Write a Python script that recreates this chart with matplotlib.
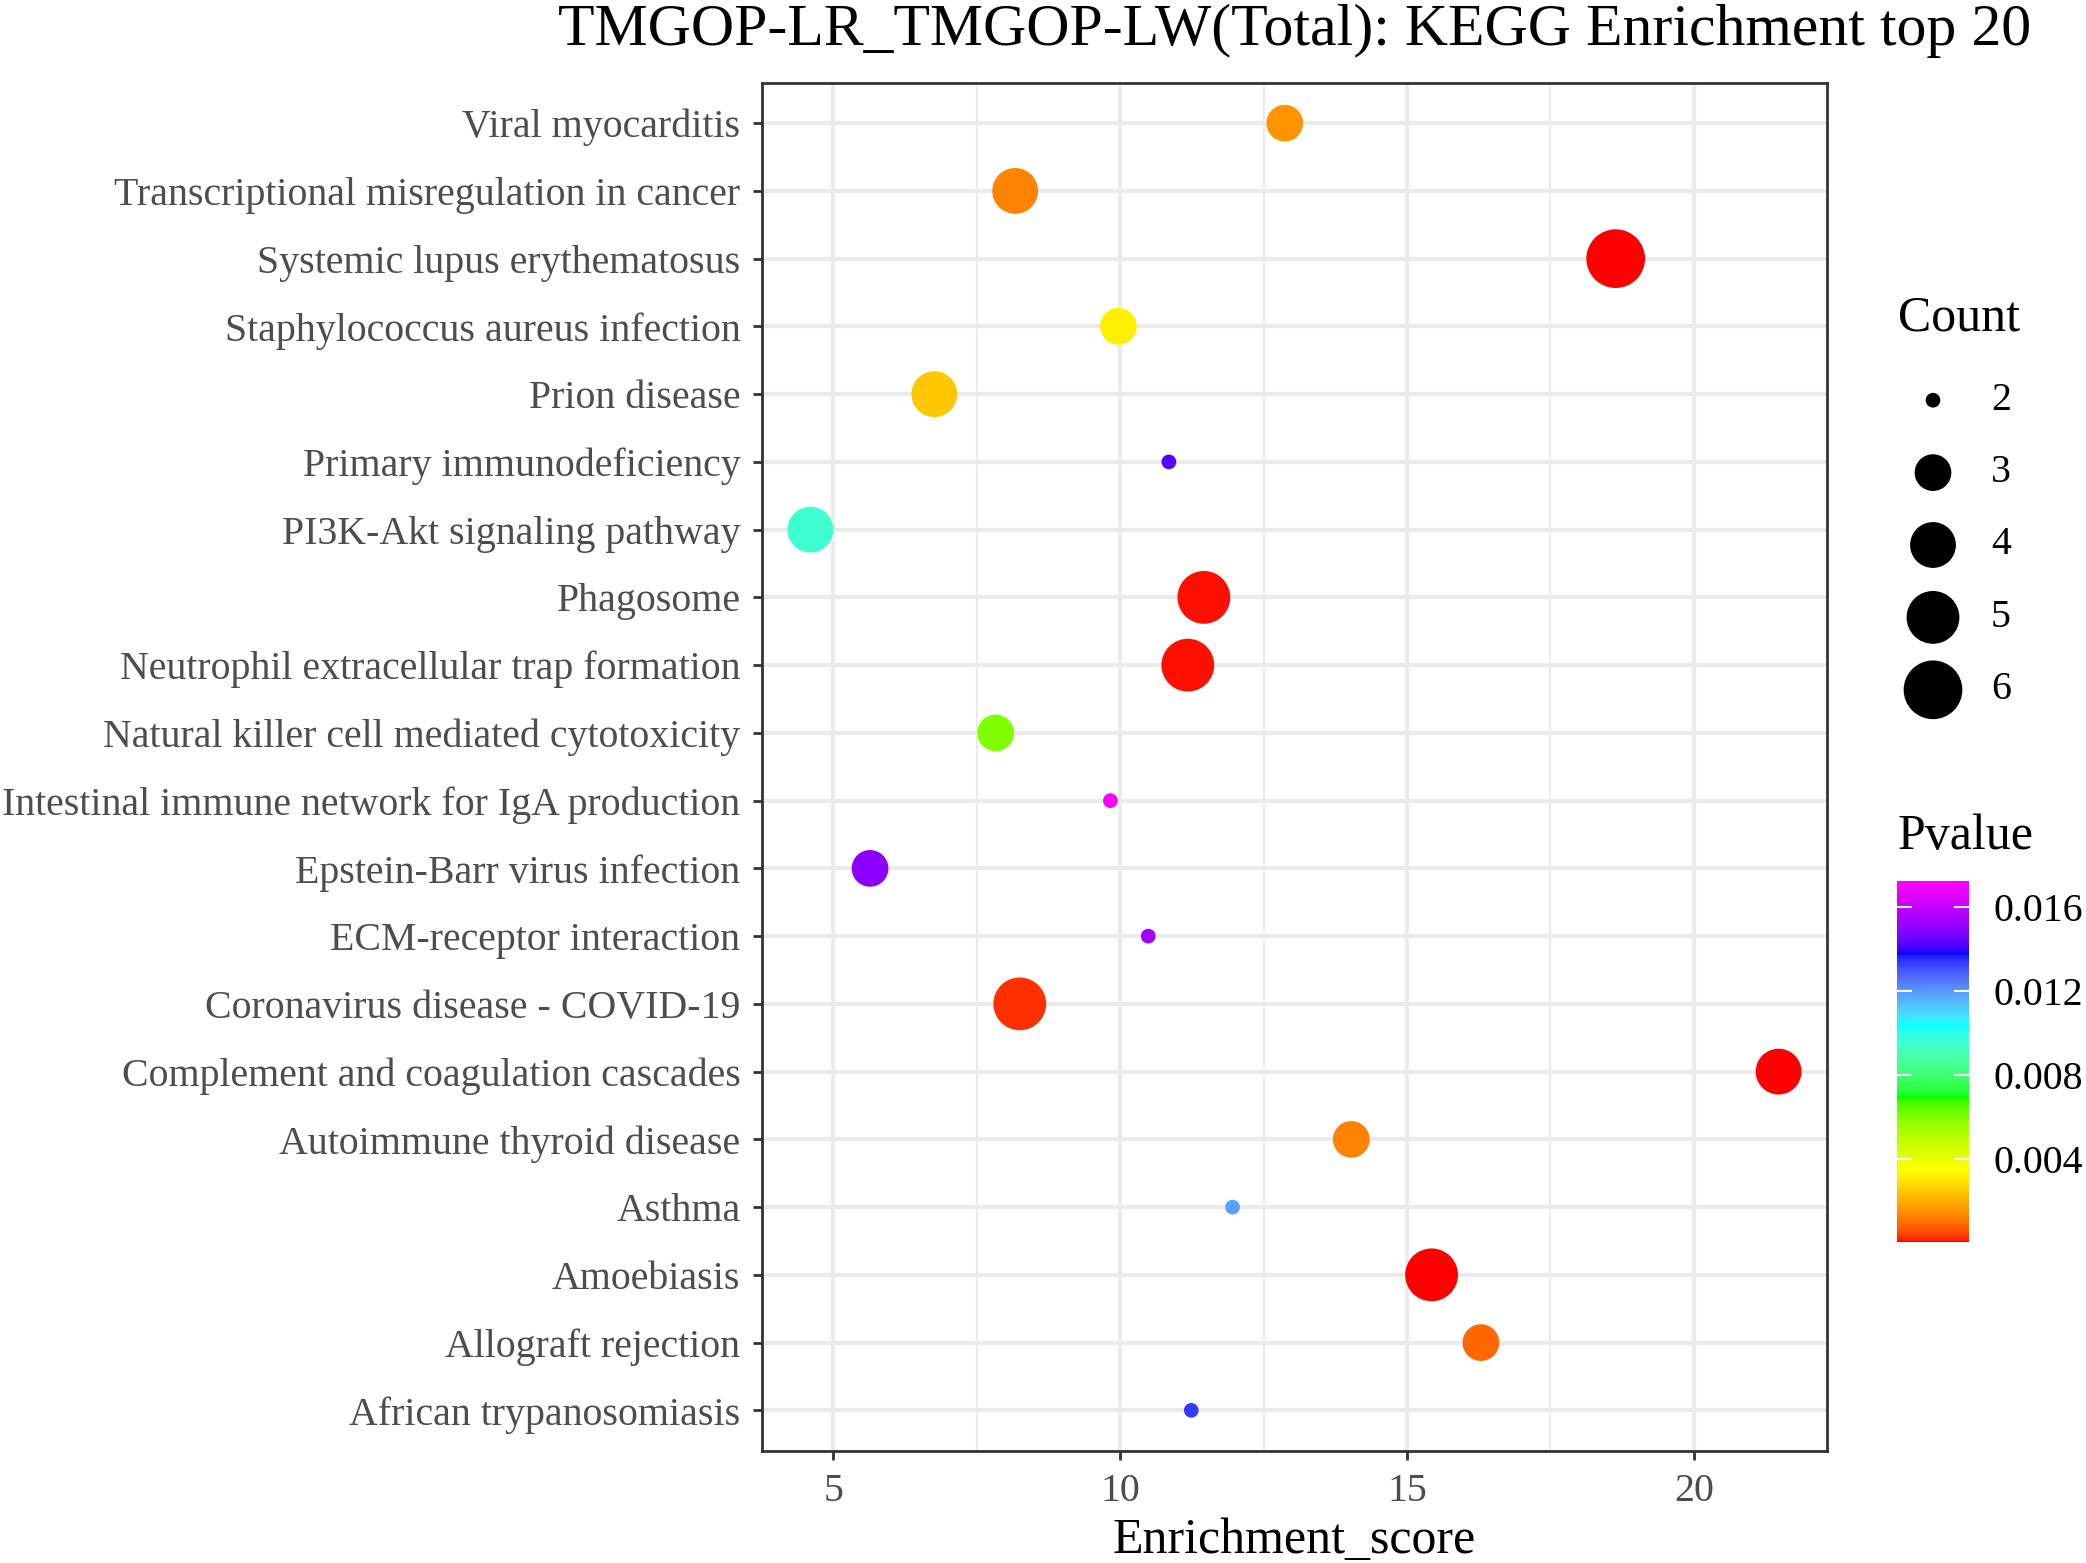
import numpy as np
import matplotlib
matplotlib.use("Agg")
import matplotlib.pyplot as plt
from matplotlib.colors import ListedColormap, Normalize, to_rgb
from matplotlib.ticker import MultipleLocator

plt.rcParams['font.family'] = ['Liberation Serif', 'DejaVu Serif']

terms = [
    "Viral myocarditis",
    "Transcriptional misregulation in cancer",
    "Systemic lupus erythematosus",
    "Staphylococcus aureus infection",
    "Prion disease",
    "Primary immunodeficiency",
    "PI3K-Akt signaling pathway",
    "Phagosome",
    "Neutrophil extracellular trap formation",
    "Natural killer cell mediated cytotoxicity",
    "Intestinal immune network for IgA production",
    "Epstein-Barr virus infection",
    "ECM-receptor interaction",
    "Coronavirus disease - COVID-19",
    "Complement and coagulation cascades",
    "Autoimmune thyroid disease",
    "Asthma",
    "Amoebiasis",
    "Allograft rejection",
    "African trypanosomiasis",
]
enrichment = [12.87, 8.17, 18.64, 9.97, 6.76, 10.85, 4.60, 11.46, 11.18, 7.83,
              9.83, 5.64, 10.49, 8.25, 21.48, 14.03, 11.96, 15.43, 16.29, 11.24]
counts = [3, 4, 6, 3, 4, 2, 4, 5, 5, 3, 2, 3, 2, 5, 4, 3, 2, 5, 3, 2]
pvalues = [0.00153, 0.00126, 0.00005, 0.00319, 0.00245, 0.01426, 0.00953, 0.00010,
           0.00010, 0.00597, 0.01723, 0.01495, 0.01535, 0.00027, 0.00008, 0.00126,
           0.01183, 0.00006, 0.00086, 0.01337]

legend_counts = [2, 3, 4, 5, 6]
cbar_ticks = [0.004, 0.008, 0.012, 0.016]
x_ticks = [5, 10, 15, 20]
gradient_colours = ["#FF0000", "#FFFF00", "#00FF00", "#00FFFF", "#0000FF", "#FF00FF"]

title = "TMGOP-LR_TMGOP-LW(Total): KEGG Enrichment top 20"
xlabel = "Enrichment_score"


# ---- colour gradient interpolated in CIELAB (like ggplot2's gradientn) ----
def _srgb_to_lin(c):
    c = np.asarray(c)
    return np.where(c <= 0.04045, c / 12.92, ((c + 0.055) / 1.055) ** 2.4)


def _lin_to_srgb(c):
    c = np.clip(c, 0, 1)
    return np.where(c <= 0.0031308, 12.92 * c, 1.055 * c ** (1 / 2.4) - 0.055)


_M = np.array([[0.4124564, 0.3575761, 0.1804375],
               [0.2126729, 0.7151522, 0.0721750],
               [0.0193339, 0.1191920, 0.9503041]])
_Minv = np.linalg.inv(_M)
_wp = np.array([0.95047, 1.0, 1.08883])


def _f(t):
    d = 6 / 29
    return np.where(t > d ** 3, np.cbrt(t), t / (3 * d * d) + 4 / 29)


def _finv(t):
    d = 6 / 29
    return np.where(t > d, t ** 3, 3 * d * d * (t - 4 / 29))


def rgb2lab(rgb):
    xyz = _srgb_to_lin(rgb) @ _M.T / _wp
    fx, fy, fz = _f(xyz[..., 0]), _f(xyz[..., 1]), _f(xyz[..., 2])
    return np.stack([116 * fy - 16, 500 * (fx - fy), 200 * (fy - fz)], -1)


def lab2rgb(lab):
    L, a, b = lab[..., 0], lab[..., 1], lab[..., 2]
    fy = (L + 16) / 116
    fx = fy + a / 500
    fz = fy - b / 200
    xyz = np.stack([_finv(fx), _finv(fy), _finv(fz)], -1) * _wp
    return _lin_to_srgb(xyz @ _Minv.T)


_alab = rgb2lab(np.array([to_rgb(c) for c in gradient_colours]))
_ts = np.linspace(0, 1, 512)
_pos = np.linspace(0, 1, len(gradient_colours))
_lab = np.stack([np.interp(_ts, _pos, _alab[:, k]) for k in range(3)], -1)
cmap = ListedColormap(np.clip(lab2rgb(_lab), 0, 1))
norm = Normalize(vmin=min(pvalues), vmax=max(pvalues))

cmin, cmax = min(counts), max(counts)


def size_of(c):
    # ggplot2 scale_size (area, range 1..6) -> visible diameter in points
    c = np.asarray(c, dtype=float)
    sz = 1 + 5 * np.sqrt((c - cmin) / (cmax - cmin))
    d_px = 3.093 * (2.845 * sz + 0.945) + 2.98
    return (d_px * 0.72) ** 2


W, H = 2086, 1563
fig = plt.figure(figsize=(W / 100, H / 100), dpi=100)

ax = fig.add_axes([762 / W, (H - 1451) / H, (1827 - 762) / W, (1451 - 82.5) / H])
ax.set_axisbelow(True)
sc = ax.scatter(enrichment, terms, s=size_of(counts), c=pvalues, cmap=cmap, norm=norm,
                linewidths=0, zorder=3)
ax.set_ylim(len(terms) - 0.4, -0.6)
ax.margins(x=0.05)
ax.set_xticks(x_ticks)
ax.xaxis.set_minor_locator(MultipleLocator(2.5))
ax.grid(True, which='major', color='#EBEBEB', linewidth=2.9)
ax.grid(True, which='minor', axis='x', color='#EBEBEB', linewidth=1.45)
ax.tick_params(which='minor', length=0)
ax.tick_params(which='major', length=6.5, width=2.0, color='#333333',
               labelcolor='#4D4D4D', labelsize=28.7)
ax.tick_params(axis='y', pad=9)
ax.tick_params(axis='x', pad=9)
for sp in ax.spines.values():
    sp.set_color('#333333')
    sp.set_linewidth(2.0)

cx = (762 + 1827) / 2 / W
fig.text(cx, 1 - 45 / H, title, fontsize=43, color='black', ha='center', va='baseline')
fig.text(cx, 1 - 1553 / H, xlabel, fontsize=36, color='black', ha='center', va='baseline')

# size legend
fig.text(1898 / W, 1 - 318 / H, "Count", fontsize=36, va='center', ha='left')
lax = fig.add_axes([1880 / W, 1 - 726 / H, 160 / W, 362 / H])
lax.set_xlim(0, 1)
lax.set_ylim(len(legend_counts) - 0.5, -0.5)
lax.axis('off')
lax.scatter([53 / 160] * len(legend_counts), range(len(legend_counts)),
            s=size_of(legend_counts), color='black', linewidths=0, clip_on=False)
for i, v in enumerate(legend_counts):
    lax.text(111 / 160, i, str(v), fontsize=28.7, va='center', ha='left')

# colour bar
fig.text(1898 / W, 1 - 837 / H, "Pvalue", fontsize=36, va='center', ha='left')
cax = fig.add_axes([1897 / W, 1 - 1242 / H, 72 / W, 361 / H])
cb = fig.colorbar(sc, cax=cax, ticks=cbar_ticks)
cb.outline.set_visible(False)
cax.tick_params(length=0, labelsize=28.7, pad=18, labelcolor='black')
cax.set_yticklabels([f"{t:.3f}" for t in cbar_ticks])
for t in cbar_ticks:
    cax.plot([0, 0.2], [t, t], color='white', lw=1.5, transform=cax.get_yaxis_transform())
    cax.plot([0.8, 1.0], [t, t], color='white', lw=1.5, transform=cax.get_yaxis_transform())

fig.savefig("out.png", dpi=100)
